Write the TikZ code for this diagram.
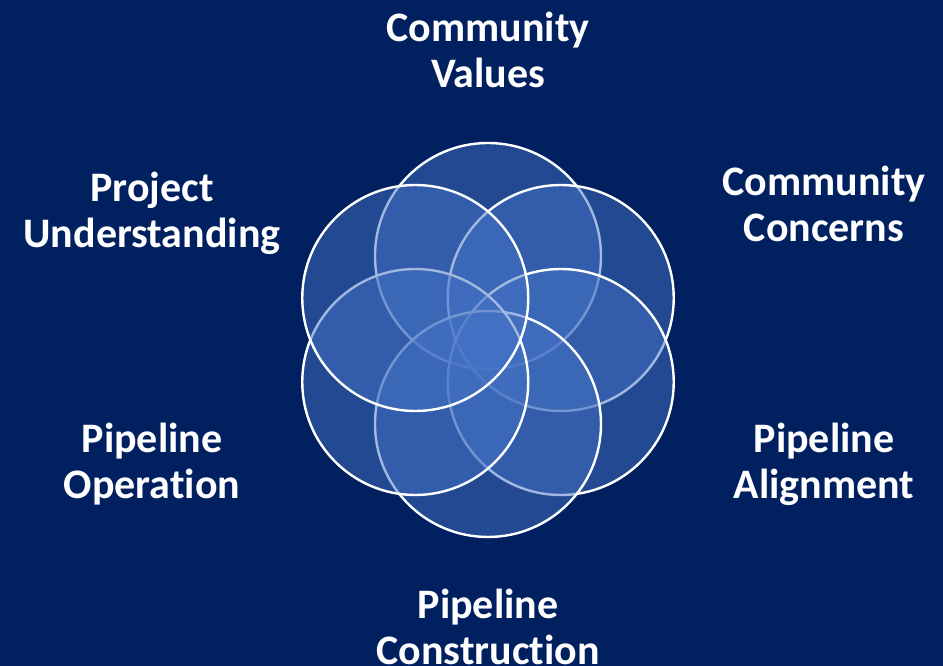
\documentclass[tikz,border=0pt]{standalone}
\usepackage{fontspec}
\setmainfont[Ligatures=NoCommon]{Carlito}
\usetikzlibrary{calc}
\definecolor{bgblue}{HTML}{002060}
\definecolor{circblue}{HTML}{4472C4}
\begin{document}
\begin{tikzpicture}[x=1pt,y=1pt,
  petal/.style={draw=white, line width=2.4pt, fill=circblue, fill opacity=0.5, draw opacity=1},
  lbl/.style={text=white, font=\fontsize{42}{46}\selectfont\bfseries, align=center, inner sep=0pt}]
\fill[bgblue] (0,0) rectangle (943,666);
\useasboundingbox (0,0) rectangle (943,666);
\coordinate (c) at (488,326);
\foreach \n/\a in {top/90, tr/30, br/-30, bot/-90, bl/-150, tl/150}{
  \path[petal] ($(c)+(\a:84)$) circle[radius=113];
}
\node[lbl] (cv) at (488,616) {Community\\Values};
\node[lbl] (cc) at (824,462) {Community\\Concerns};
\node[lbl] (pu) at (152,453) {Project\\Understanding};
\node[lbl] (po) at (152,202) {Pipeline\\Operation};
\node[lbl] (pa) at (824,202) {Pipeline\\Alignment};
\node[lbl] (pc) at (488,39) {Pipeline\\Construction};
\end{tikzpicture}
\end{document}
